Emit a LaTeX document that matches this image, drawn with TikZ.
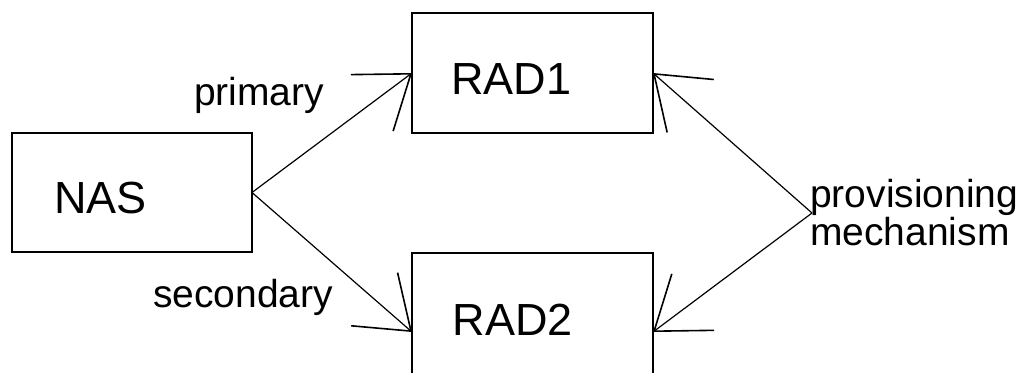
\documentclass[tikz,border=0pt]{standalone}
\usepackage{fontspec}
\setmainfont{Liberation Sans}
\usetikzlibrary{arrows.meta,calc}
\begin{document}
\begin{tikzpicture}[x=1pt,y=-1pt,
  box/.style={draw=black,line width=2pt,rectangle,inner sep=0pt,outer sep=0pt},
  boxtext/.style={inner sep=0pt,font=\fontsize{45}{54}\selectfont},
  lbl/.style={inner sep=0pt,font=\fontsize{39}{38}\selectfont},
  conn/.style={draw=black,line width=1.2pt,-{Straight Barb[angle=72:60pt,line width=1.6pt]}}
]
\useasboundingbox[fill=white] (0,0) rectangle (1027,372);
% boxes
\node[box,minimum width=240pt,minimum height=119pt] (nas) at (132,192.5) {};
\node[box,minimum width=241pt,minimum height=120pt] (rad1) at (532.5,73) {};
\node[box,minimum width=241pt,minimum height=158pt] (rad2) at (532.5,332) {};
% box texts
\node[boxtext,anchor=base] (nast) at (100.5,213) {NAS};
\node[boxtext,anchor=base] (rad1t) at (511.5,94) {RAD1};
\node[boxtext,anchor=base] (rad2t) at (513,335) {RAD2};
% labels
\node[lbl,anchor=base] (prim) at (259,105) {primary};
\node[lbl,anchor=base] (sec) at (243,307) {secondary};
\coordinate (prov) at (812,213);
\node[lbl,anchor=west,align=left] (provt) at (810,213) {provisioning\\mechanism};
% connectors
\draw[conn] (nas.east) -- (rad1.west);
\draw[conn] (nas.east) -- (rad2.west);
\draw[conn] (prov) -- (rad1.east);
\draw[conn] (prov) -- (rad2.east);
\end{tikzpicture}
\end{document}
